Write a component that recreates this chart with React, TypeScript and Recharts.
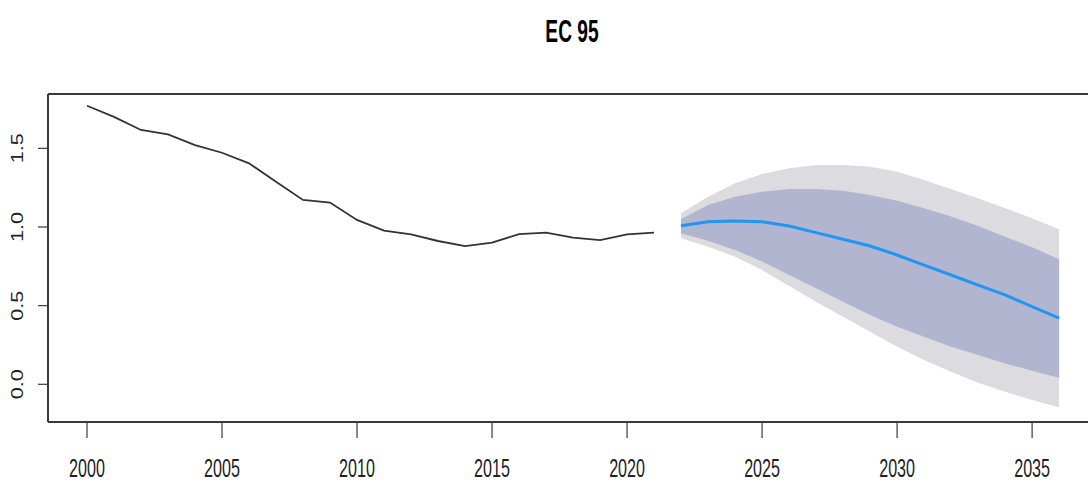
import React from "react";
import { ComposedChart, Area, Line, XAxis, YAxis, ReferenceLine } from "recharts";

const histYears = [2000, 2001, 2002, 2003, 2004, 2005, 2006, 2007, 2008, 2009, 2010, 2011, 2012, 2013, 2014, 2015, 2016, 2017, 2018, 2019, 2020, 2021];
const histValues = [1.771, 1.70, 1.617, 1.589, 1.52, 1.472, 1.405, 1.288, 1.172, 1.155, 1.045, 0.977, 0.953, 0.911, 0.879, 0.90, 0.955, 0.964, 0.932, 0.917, 0.953, 0.964];

const fcYears = [2022, 2023, 2024, 2025, 2026, 2027, 2028, 2029, 2030, 2031, 2032, 2033, 2034, 2035, 2036];
const fcMean = [1.008, 1.034, 1.038, 1.034, 1.006, 0.964, 0.922, 0.879, 0.822, 0.758, 0.695, 0.631, 0.568, 0.493, 0.42];
const fcHi80 = [1.051, 1.14, 1.193, 1.224, 1.241, 1.241, 1.231, 1.203, 1.167, 1.119, 1.066, 1.006, 0.938, 0.871, 0.795];
const fcLo80 = [0.96, 0.913, 0.854, 0.78, 0.695, 0.61, 0.525, 0.44, 0.366, 0.303, 0.239, 0.186, 0.133, 0.086, 0.042];
const fcHi95 = [1.087, 1.193, 1.278, 1.337, 1.373, 1.394, 1.394, 1.383, 1.352, 1.299, 1.24, 1.182, 1.119, 1.055, 0.985];
const fcLo95 = [0.928, 0.875, 0.811, 0.727, 0.625, 0.525, 0.43, 0.334, 0.239, 0.154, 0.08, 0.01, -0.047, -0.10, -0.146];

const xTicks = [2000, 2005, 2010, 2015, 2020, 2025, 2030, 2035];
const yTicks = [0, 0.5, 1.0, 1.5];
const yTickLabels = ["0.0", "0.5", "1.0", "1.5"];

const X_DOMAIN: [number, number] = [1998.556, 2037.07];
const Y_DOMAIN: [number, number] = [-0.2397, 1.8455];

const data = [
  ...histYears.map((y, i) => ({ year: y, hist: histValues[i] })),
  ...fcYears.map((y, i) => ({
    year: y,
    fc: fcMean[i],
    band80: [fcLo80[i], fcHi80[i]],
    band95: [fcLo95[i], fcHi95[i]],
  })),
];

const FONT = "'Liberation Sans', Arial, Helvetica, sans-serif";
const AXIS_COLOR = "#3a3a3a";

const XTick = (props: any) => {
  const { x, y, payload } = props;
  return (
    <text
      transform={`translate(${x},${y + 36.5}) scale(0.62,1)`}
      textAnchor="middle"
      fontFamily={FONT}
      fontSize={26}
      fill="#222"
    >
      {String(payload.value)}
    </text>
  );
};

const YTick = (props: any) => {
  const { x, y, payload } = props;
  const idx = yTicks.indexOf(payload.value);
  const label = idx >= 0 ? yTickLabels[idx] : String(payload.value);
  return (
    <text
      transform={`translate(${x - 13},${y}) rotate(-90) scale(1.35,1)`}
      textAnchor="middle"
      fontFamily={FONT}
      fontSize={16}
      fill="#222"
    >
      {label}
    </text>
  );
};

export default function App() {
  return (
    <div style={{ position: "absolute", left: 0, top: 0, width: 1088, height: 482, overflow: "hidden", background: "#fff" }}>
      <svg width={1088} height={60} style={{ position: "absolute", left: 0, top: 0 }}>
        <text
          transform="translate(572,41.5) scale(0.6,1)"
          textAnchor="middle"
          fontFamily={FONT}
          fontWeight="bold"
          fontSize={32}
          fill="#000"
        >
          EC 95
        </text>
      </svg>
      <ComposedChart
        width={1088}
        height={482}
        data={data}
        margin={{ top: 94, right: 0, bottom: 0, left: 0 }}
      >
        <XAxis
          dataKey="year"
          type="number"
          domain={X_DOMAIN}
          allowDataOverflow
          ticks={xTicks}
          tickSize={16}
          tickLine={{ stroke: AXIS_COLOR, strokeWidth: 1.2 }}
          axisLine={{ stroke: AXIS_COLOR, strokeWidth: 2 }}
          height={60}
          tick={<XTick />}
          interval={0}
        />
        <YAxis
          type="number"
          domain={Y_DOMAIN}
          allowDataOverflow
          ticks={yTicks}
          tickSize={10}
          tickLine={{ stroke: AXIS_COLOR, strokeWidth: 1.2 }}
          axisLine={{ stroke: AXIS_COLOR, strokeWidth: 2 }}
          width={48}
          tick={<YTick />}
          interval={0}
        />
        <ReferenceLine y={Y_DOMAIN[1]} stroke={AXIS_COLOR} strokeWidth={2} ifOverflow="extendDomain" />
        <Area
          dataKey="band95"
          type="linear"
          stroke="none"
          fill="#dbdbe0"
          fillOpacity={1}
          isAnimationActive={false}
          activeDot={false}
        />
        <Area
          dataKey="band80"
          type="linear"
          stroke="none"
          fill="#b1b5d0"
          fillOpacity={1}
          isAnimationActive={false}
          activeDot={false}
        />
        <Line
          dataKey="fc"
          type="linear"
          stroke="#2196f0"
          strokeWidth={3}
          dot={false}
          activeDot={false}
          isAnimationActive={false}
        />
        <Line
          dataKey="hist"
          type="linear"
          stroke="#333333"
          strokeWidth={1.8}
          dot={false}
          activeDot={false}
          isAnimationActive={false}
        />
      </ComposedChart>
    </div>
  );
}
